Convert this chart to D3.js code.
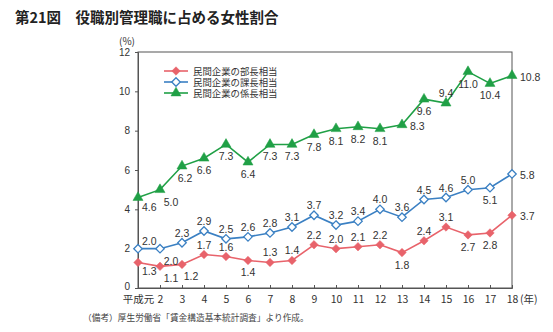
<!DOCTYPE html>
<html>
<head>
<meta charset="utf-8">
<script src="https://cdn.jsdelivr.net/npm/d3@7"></script>
<style>
  body { margin: 0; background: #fff; }
  svg text { font-family: "Noto Sans CJK JP", "Noto Sans", sans-serif; }
</style>
</head>
<body>
<svg id="chart" width="553" height="332"></svg>
<script>
const years = ["平成元", "2", "3", "4", "5", "6", "7", "8", "9", "10", "11", "12", "13", "14", "15", "16", "17", "18"];
const buchou = [1.3, 1.1, 1.2, 1.7, 1.6, 1.4, 1.3, 1.4, 2.2, 2.0, 2.1, 2.2, 1.8, 2.4, 3.1, 2.7, 2.8, 3.7];
const kachou = [2.0, 2.0, 2.3, 2.9, 2.5, 2.6, 2.8, 3.1, 3.7, 3.2, 3.4, 4.0, 3.6, 4.5, 4.6, 5.0, 5.1, 5.8];
const kakarichou = [4.6, 5.0, 6.2, 6.6, 7.3, 6.4, 7.3, 7.3, 7.8, 8.1, 8.2, 8.1, 8.3, 9.6, 9.4, 11.0, 10.4, 10.8];
// label placement: a = above, b = below, r = right
const buchouPos = "bbbaabaaaaaabaabbr";
const kachouPos = "abaaaaaaaaaaaaaabr";
const kakariPos = "bbbbbbbbbbbbrbabbr";
const yTicks = [0, 2, 4, 6, 8, 10, 12];

const series = [
  { name: "民間企業の部長相当", values: buchou, pos: buchouPos, color: "#e8636b", shape: "diamond", fill: true },
  { name: "民間企業の課長相当", values: kachou, pos: kachouPos, color: "#3b80c3", shape: "diamond", fill: false },
  { name: "民間企業の係長相当", values: kakarichou, pos: kakariPos, color: "#20a046", shape: "triangle", fill: true }
];

const svg = d3.select("#chart");
const plotL = 138, plotR = 512, plotT = 52, plotB = 288;

const x = d3.scalePoint().domain(years).range([plotL, plotR]);
const y = d3.scaleLinear().domain([0, 12]).range([plotB, plotT]);

// title
svg.append("text").attr("x", 15).attr("y", 23)
  .attr("font-size", 14.5).attr("font-weight", "bold").attr("fill", "#222")
  .text("第21図　役職別管理職に占める女性割合");

// frame
svg.append("rect").attr("x", plotL).attr("y", plotT)
  .attr("width", plotR - plotL).attr("height", plotB - plotT)
  .attr("fill", "none").attr("stroke", "#555").attr("stroke-width", 1);

// y axis
const yAxis = svg.append("g").attr("transform", `translate(${plotL},0)`)
  .call(d3.axisLeft(y).tickValues(yTicks).tickSize(3).tickPadding(5));
yAxis.select(".domain").attr("stroke", "#555");
yAxis.selectAll("line").attr("stroke", "#555");
yAxis.selectAll("text").attr("font-size", 10).attr("fill", "#333")
  .style("font-family", "Liberation Sans, Arial, sans-serif");
yAxis.selectAll(".tick").filter(d => d === 0).select("text").attr("dy", "0.1em");

svg.append("text").attr("x", 127).attr("y", 45).attr("text-anchor", "middle")
  .attr("font-size", 10).attr("fill", "#333").text("(%)");

// x axis, ticks inward
const xAxis = svg.append("g").attr("transform", `translate(0,${plotB})`)
  .call(d3.axisBottom(x).tickSize(-3).tickPadding(8));
xAxis.select(".domain").attr("stroke", "#555");
xAxis.selectAll("line").attr("stroke", "#555");
xAxis.selectAll("text").attr("font-size", 10.5).attr("fill", "#333");

svg.append("text").attr("x", 520).attr("y", 303)
  .attr("font-size", 10.5).attr("fill", "#333").text("(年)");

const diamond = d3.symbol().type(d3.symbolDiamond2 || d3.symbolDiamond).size(46);
const triangle = d3.symbol().type(d3.symbolTriangle).size(44);

const line = d3.line().x((d, i) => x(years[i])).y(d => y(d));

// crowded labels near the start get nudged right
function nudge(si, i, p) {
  if (p !== "b") return 0;
  if (i === 1) return 11;
  if (i === 2 && si === 0) return 9;
  if (i === 2) return 3;
  return 0;
}

series.forEach((s, si) => {
  const g = svg.append("g");
  g.append("path").datum(s.values).attr("d", line)
    .attr("fill", "none").attr("stroke", s.color).attr("stroke-width", 1.6);

  g.selectAll("path.pt").data(s.values).join("path").attr("class", "pt")
    .attr("transform", (d, i) => `translate(${x(years[i])},${y(d)})`)
    .attr("d", s.shape === "triangle" ? triangle : diamond)
    .attr("fill", s.fill ? s.color : "#fff")
    .attr("stroke", s.color).attr("stroke-width", s.fill ? 0.5 : 1.3);

  g.selectAll("text.lbl").data(s.values).join("text").attr("class", "lbl")
    .attr("x", (d, i) => {
      const p = s.pos[i];
      if (p === "r") return x(years[i]) + 8;
      if (i === 0) return x(years[i]) + 4;
      return x(years[i]) + nudge(si, i, p);
    })
    .attr("y", (d, i) => {
      const p = s.pos[i];
      if (i === 0) return p === "a" ? y(d) - 4 : y(d) + 13;
      if (p === "a") return y(d) - 6;
      if (p === "b") return y(d) + 16;
      return y(d) + 5;
    })
    .attr("text-anchor", (d, i) => (s.pos[i] === "r" || i === 0) ? "start" : "middle")
    .attr("font-size", 10.5).attr("fill", "#333")
    .style("font-family", "Liberation Sans, Arial, sans-serif")
    .text(d => d.toFixed(1));
});

// legend
const legend = svg.append("g").attr("transform", "translate(164,71)");
series.forEach((s, i) => {
  const row = legend.append("g").attr("transform", `translate(0,${i * 11})`);
  row.append("line").attr("x1", 0).attr("x2", 24).attr("y1", 0).attr("y2", 0)
    .attr("stroke", s.color).attr("stroke-width", 1.6);
  row.append("path").attr("transform", "translate(12,0)")
    .attr("d", s.shape === "triangle" ? triangle : diamond)
    .attr("fill", s.fill ? s.color : "#fff")
    .attr("stroke", s.color).attr("stroke-width", s.fill ? 0.5 : 1.3);
  row.append("text").attr("x", 29).attr("y", 3.5)
    .attr("font-size", 9.4).attr("fill", "#333").text(s.name);
});

// note
svg.append("text").attr("x", 83).attr("y", 321)
  .attr("font-size", 8.7).attr("fill", "#444")
  .text("（備考）厚生労働省「賃金構造基本統計調査」より作成。");
</script>
</body>
</html>
